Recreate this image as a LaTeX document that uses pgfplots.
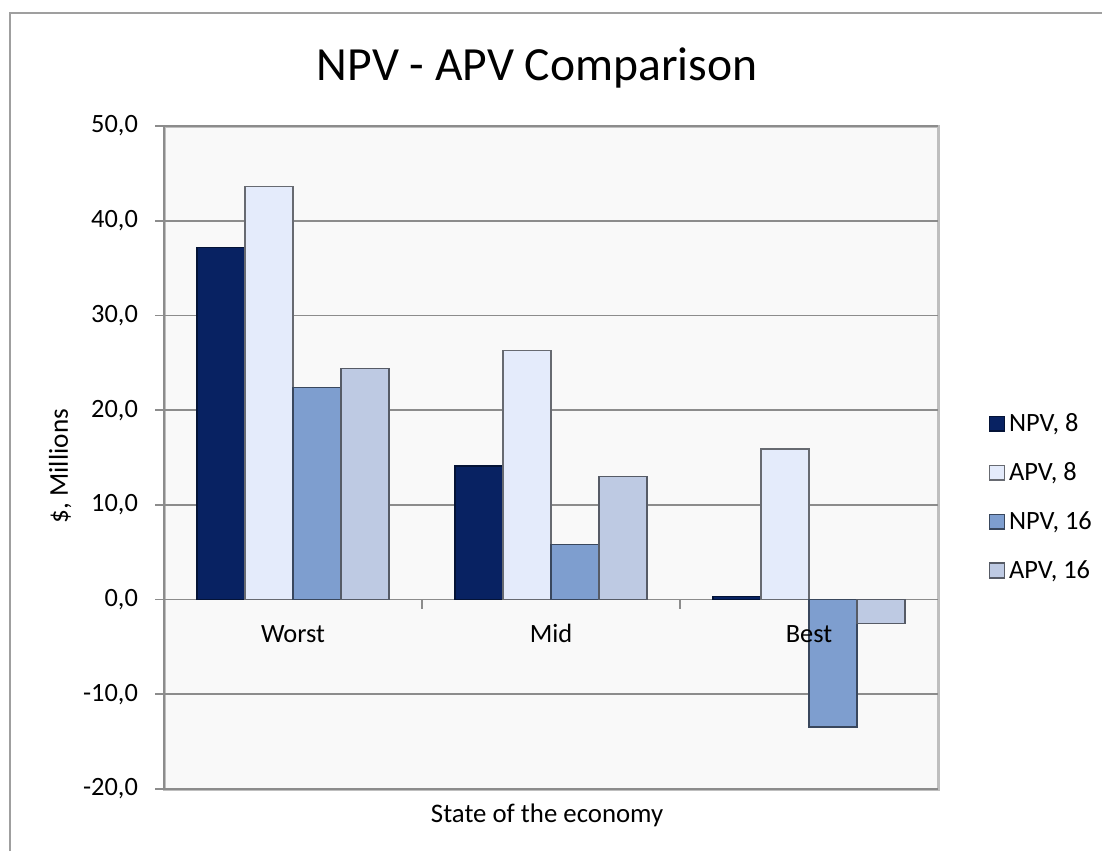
\documentclass[border=0pt]{standalone}
\usepackage{fontspec}
\setmainfont{Carlito}
\usepackage{pgfplots}
\pgfplotsset{compat=1.18}
\definecolor{cNa}{RGB}{8,34,98}
\definecolor{cAa}{RGB}{228,235,251}
\definecolor{cNb}{RGB}{126,158,207}
\definecolor{cAb}{RGB}{190,202,227}
\definecolor{gridc}{RGB}{140,140,140}
\begin{document}
\begin{tikzpicture}
\path[use as bounding box] (0,0) rectangle (551pt,425.5pt);
\draw[gray!75, line width=1.2pt] (5pt,0) -- (5pt,419pt) -- (551pt,419pt);
\begin{axis}[
  at={(82pt,31pt)}, anchor=south west,
  scale only axis, width=387pt, height=331.5pt,
  ybar=0pt, bar width=0.186,
  xmin=-0.5, xmax=2.5, ymin=-20, ymax=50,
  axis x line*=middle, axis y line*=left,
  axis line style={gridc, line width=0.9pt},
  axis background/.style={fill=black!2.5, draw=black!25, line width=1.5pt},
  xtick={0,1,2}, xticklabels={,,},
  major x tick style={draw=none},
  minor xtick={0.5,1.5}, minor tick length=4.5pt,
  xtick align=outside,
  ytick={-20,-10,...,50}, ytick align=outside, major tick length=4.5pt,
  tick style={gridc, line width=0.8pt},
  ymajorgrids, grid style={gridc, line width=0.9pt},
  yticklabel style={anchor=east, xshift=-5pt,
    /pgf/number format/fixed, /pgf/number format/fixed zerofill,
    /pgf/number format/precision=1, /pgf/number format/use comma,
    /pgf/number format/1000 sep={}, /pgf/number format/assume math mode=true},
  ticklabel style={font=\fontsize{13.2pt}{15pt}\selectfont, text=black},
  title={NPV - APV Comparison},
  title style={at={(0.482,1.051)}, anchor=base, font=\fontsize{23.8pt}{28pt}\selectfont},
  ylabel={\$, Millions},
  ylabel style={at={(-0.134,0.487)}, anchor=center, rotate=0, font=\fontsize{13.6pt}{15pt}\selectfont},
  xlabel={State of the economy},
  xlabel style={at={(0.495,-0.05)}, anchor=base, font=\fontsize{13.4pt}{15pt}\selectfont},
  legend style={at={(1.057,0.44)}, anchor=west, draw=none, fill=none,
    font=\fontsize{13.2pt}{15pt}\selectfont, row sep=10pt, cells={anchor=west}},
  legend image code/.code={\draw[#1] (0pt,-3.6pt) rectangle (7.6pt,3.8pt);},
  clip=false,
]
\addplot+[draw=cNa!55!black, fill=cNa, line width=0.7pt] coordinates {(0,37.2) (1,14.1) (2,0.3)};
\addplot+[draw=cAa!45!black, fill=cAa, line width=0.7pt] coordinates {(0,43.6) (1,26.3) (2,15.9)};
\addplot+[draw=cNb!45!black, fill=cNb, line width=0.7pt] coordinates {(0,22.4) (1,5.8) (2,-13.45)};
\addplot+[draw=cAb!45!black, fill=cAb, line width=0.7pt] coordinates {(0,24.4) (1,13.0) (2,-2.5)};
\legend{NPV{,} 8, APV{,} 8, NPV{,} 16, APV{,} 16}
\node[anchor=base, font=\fontsize{13.2pt}{15pt}\selectfont, inner sep=0pt] at (axis cs:0,-4.5) {Worst};
\node[anchor=base, font=\fontsize{13.2pt}{15pt}\selectfont, inner sep=0pt] at (axis cs:1,-4.5) {Mid};
\node[anchor=base, font=\fontsize{13.2pt}{15pt}\selectfont, inner sep=0pt] at (axis cs:2,-4.5) {Best};
\end{axis}
\end{tikzpicture}
\end{document}
